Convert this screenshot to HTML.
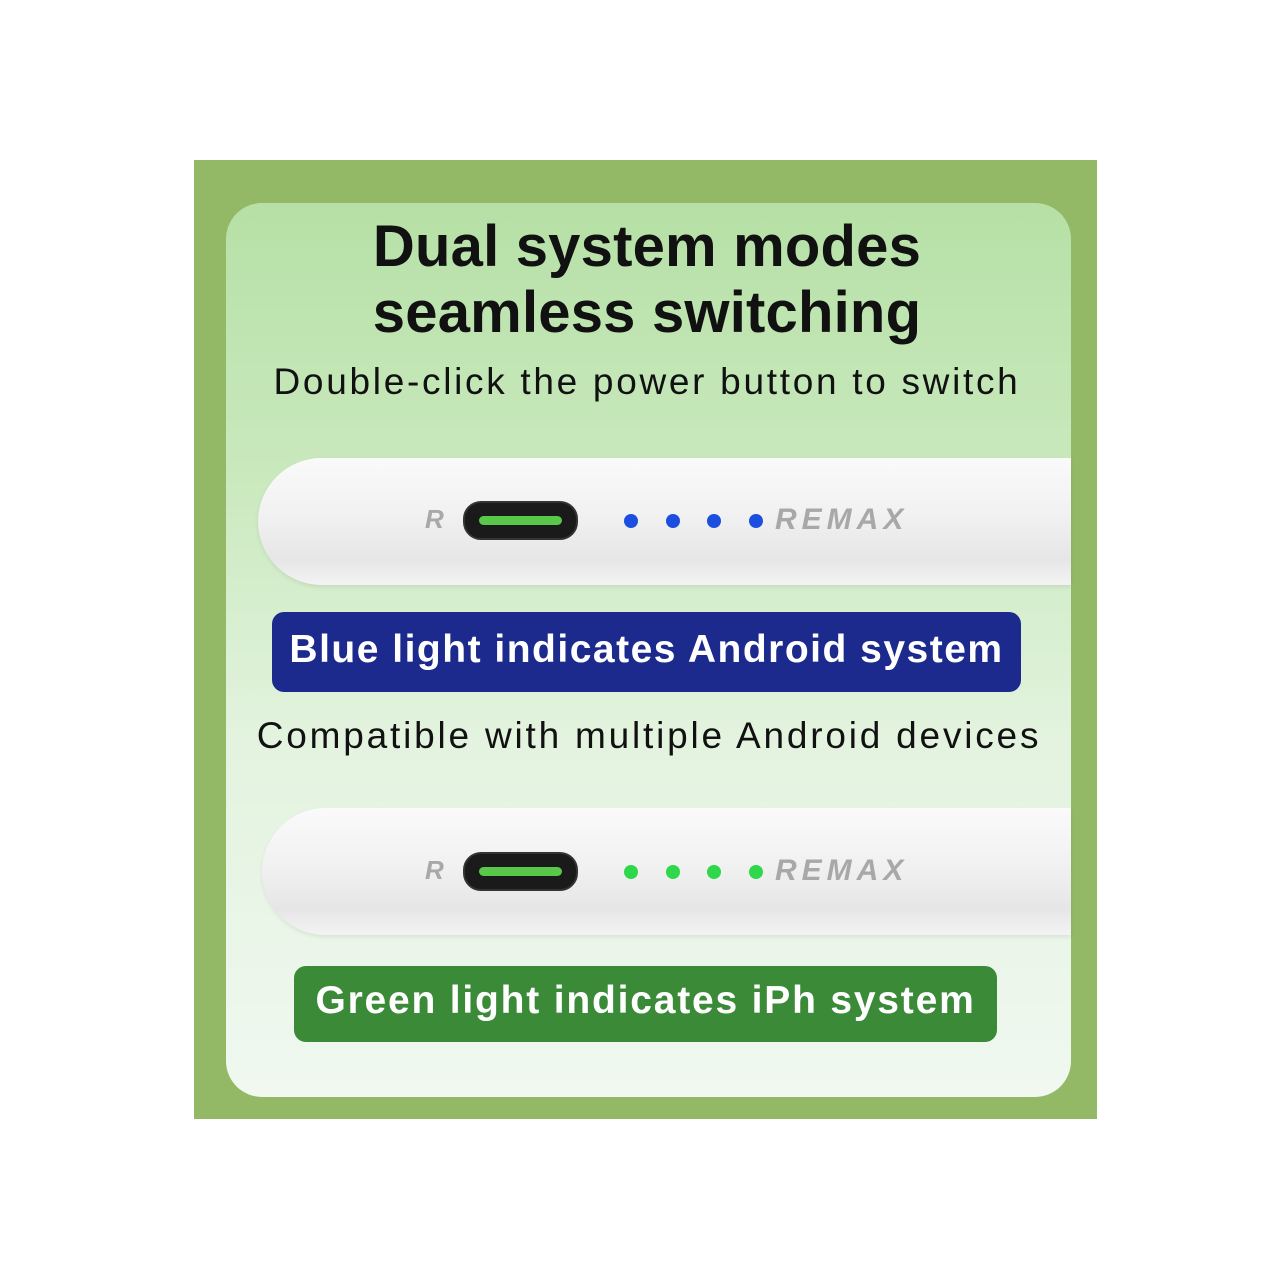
<!DOCTYPE html>
<html><head><style>
body{margin:0;width:1280px;height:1280px;background:#fff;position:relative;font-family:"Liberation Sans",sans-serif;overflow:hidden}
.abs{position:absolute}
.frame{left:194px;top:160px;width:903px;height:959px;background:#93b967}
.card{left:226px;top:203px;width:845px;height:894px;border-radius:36px;background:linear-gradient(#b6e0a6 0%,#c9e9bd 30%,#e3f3df 60%,#f0f8f0 100%)}
.t{left:0;width:1280px;text-align:center;color:#111;white-space:nowrap}
.bar{height:127px;border-radius:64px 0 0 64px;background:linear-gradient(#fafafa 0%,#f1f1f1 45%,#e6e6e6 80%,#f3f3f3 100%);box-shadow:0 2px 4px rgba(0,0,0,.08)}
.port{width:111px;height:35px;border-radius:18px;background:#1a1a1a;border:2px solid #333}
.port i{position:absolute;left:14px;top:13px;width:83px;height:9px;border-radius:5px;background:#58c74a}
.dot{width:14px;height:14px;border-radius:50%}
.rem{font-size:30px;font-weight:bold;color:#a8a8a8;font-style:italic;letter-spacing:5px}
.lab{color:#fff;font-weight:bold;text-align:center;white-space:nowrap}
</style></head><body>
<div class="abs frame"></div>
<div class="abs card"></div>
<div class="abs t" style="top:213px;font-size:58px;font-weight:bold;left:7px;letter-spacing:0.2px">Dual system modes</div>
<div class="abs t" style="top:279px;font-size:58px;font-weight:bold;left:7px;letter-spacing:0.2px">seamless switching</div>
<div class="abs t" style="top:361px;font-size:37px;left:7px;letter-spacing:2.7px">Double-click the power button to switch</div>

<div class="abs bar" style="left:258px;top:458px;width:813px"></div>
<div class="abs rem" style="left:425px;top:504px;font-size:26px">R</div>
<div class="abs port" style="left:463px;top:501px"><i></i></div>
<div class="abs dot" style="left:624px;top:514px;background:#1c4fe0"></div>
<div class="abs dot" style="left:666px;top:514px;background:#1c4fe0"></div>
<div class="abs dot" style="left:707px;top:514px;background:#1c4fe0"></div>
<div class="abs dot" style="left:749px;top:514px;background:#1c4fe0"></div>
<div class="abs rem" style="left:775px;top:503px">REMAX</div>

<div class="abs lab" style="left:272px;top:612px;width:749px;height:80px;border-radius:12px;background:#1b2a8c;font-size:39px;line-height:76px;letter-spacing:1.5px">Blue light indicates Android system</div>
<div class="abs t" style="top:715px;font-size:37px;left:9px;letter-spacing:2.8px">Compatible with multiple Android devices</div>

<div class="abs bar" style="left:262px;top:808px;width:809px"></div>
<div class="abs rem" style="left:425px;top:855px;font-size:26px">R</div>
<div class="abs port" style="left:463px;top:852px"><i></i></div>
<div class="abs dot" style="left:624px;top:865px;background:#2ed84a"></div>
<div class="abs dot" style="left:666px;top:865px;background:#2ed84a"></div>
<div class="abs dot" style="left:707px;top:865px;background:#2ed84a"></div>
<div class="abs dot" style="left:749px;top:865px;background:#2ed84a"></div>
<div class="abs rem" style="left:775px;top:854px">REMAX</div>

<div class="abs lab" style="left:294px;top:966px;width:703px;height:76px;border-radius:12px;background:#3a8a38;font-size:39px;line-height:70px;letter-spacing:1.8px">Green light indicates iPh system</div>
</body></html>
